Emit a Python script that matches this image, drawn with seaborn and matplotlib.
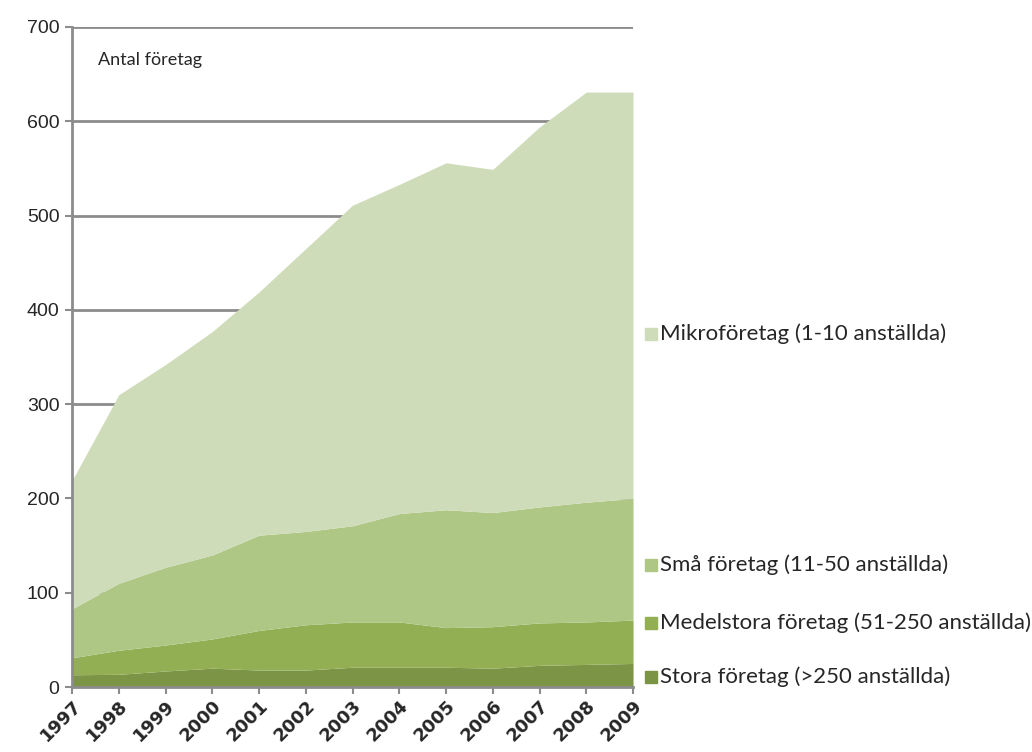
import numpy as np
import pandas as pd
import matplotlib
matplotlib.use("Agg")
import matplotlib.pyplot as plt
import matplotlib.transforms as mtransforms
import seaborn as sns
from matplotlib.patches import Rectangle

# Data
years = [1997, 1998, 1999, 2000, 2001, 2002, 2003, 2004, 2005, 2006, 2007, 2008, 2009]
stora = [13, 13.5, 17, 20, 18, 18, 21, 21, 21, 20, 23, 24, 25]
medel = [18, 25.5, 27.5, 31, 42, 48, 48, 48, 42, 44, 45, 45, 46]
sma = [52, 71, 82.5, 89, 101, 99, 102, 115, 125, 121, 123, 127, 129]
mikro = [136, 200, 215, 237, 258, 300, 340, 349, 368, 364, 403, 435, 431]

labels = ["Stora företag (>250 anställda)",
          "Medelstora företag (51-250 anställda)",
          "Små företag (11-50 anställda)",
          "Mikroföretag (1-10 anställda)"]
colors = ["#7b9445", "#92af54", "#aec785", "#cfdcb9"]

df = pd.DataFrame({"Year": years, labels[0]: stora, labels[1]: medel,
                   labels[2]: sma, labels[3]: mikro})

sns.set_style("white")
plt.rcParams["font.family"] = ["Liberation Sans", "DejaVu Sans"]
grey = "#8c8c8c"

fig = plt.figure(figsize=(10.32, 7.52), dpi=100)
ax = fig.add_axes([0.0698, 0.0864, 0.5436, 0.8777])

ax.stackplot(df["Year"], [df[l] for l in labels], colors=colors, linewidth=0, zorder=2)

ax.set_xlim(1997, 2009)
ax.set_ylim(0, 700)
ax.set_yticks(range(0, 701, 100))
ax.set_xticks(years)
ax.set_xticklabels([str(y) for y in years], rotation=45, ha="right", va="top",
                   rotation_mode="anchor", fontsize=13, fontweight="bold",
                   family=["DejaVu Sans"])
shift = mtransforms.ScaledTranslation(4 / 72, 0, fig.dpi_scale_trans)
for t in ax.get_xticklabels():
    t.set_transform(t.get_transform() + shift)
ax.tick_params(axis="y", labelsize=14, length=5, width=1.5, color=grey, pad=4, direction="out", left=True)
ax.tick_params(axis="x", length=5, width=1.5, color=grey, pad=2, direction="out", bottom=True)
ax.yaxis.grid(True, color=grey, linewidth=2, zorder=0)
ax.set_axisbelow(True)
for side in ["top", "right"]:
    ax.spines[side].set_visible(False)
for side in ["left", "bottom"]:
    ax.spines[side].set_color(grey)
    ax.spines[side].set_linewidth(2)
    ax.spines[side].set_zorder(3)

ax.text(0.047, 0.95, "Antal företag", transform=ax.transAxes, fontsize=13,
        family=["Lato", "DejaVu Sans"], va="center", ha="left")

# Legend on the right, entries placed like the original
W, H = 1032, 752
legend_y = [677, 623, 565, 334]
for lab, col, py in zip(labels, colors, legend_y):
    fig.patches.append(Rectangle((645 / W, 1 - (py + 6) / H), 12 / W, 12 / H,
                                 transform=fig.transFigure, color=col))
    fig.text(660 / W, 1 - py / H, lab, fontsize=16, family=["Lato", "DejaVu Sans"],
             va="center", ha="left")

fig.savefig("out.png", dpi=100)
